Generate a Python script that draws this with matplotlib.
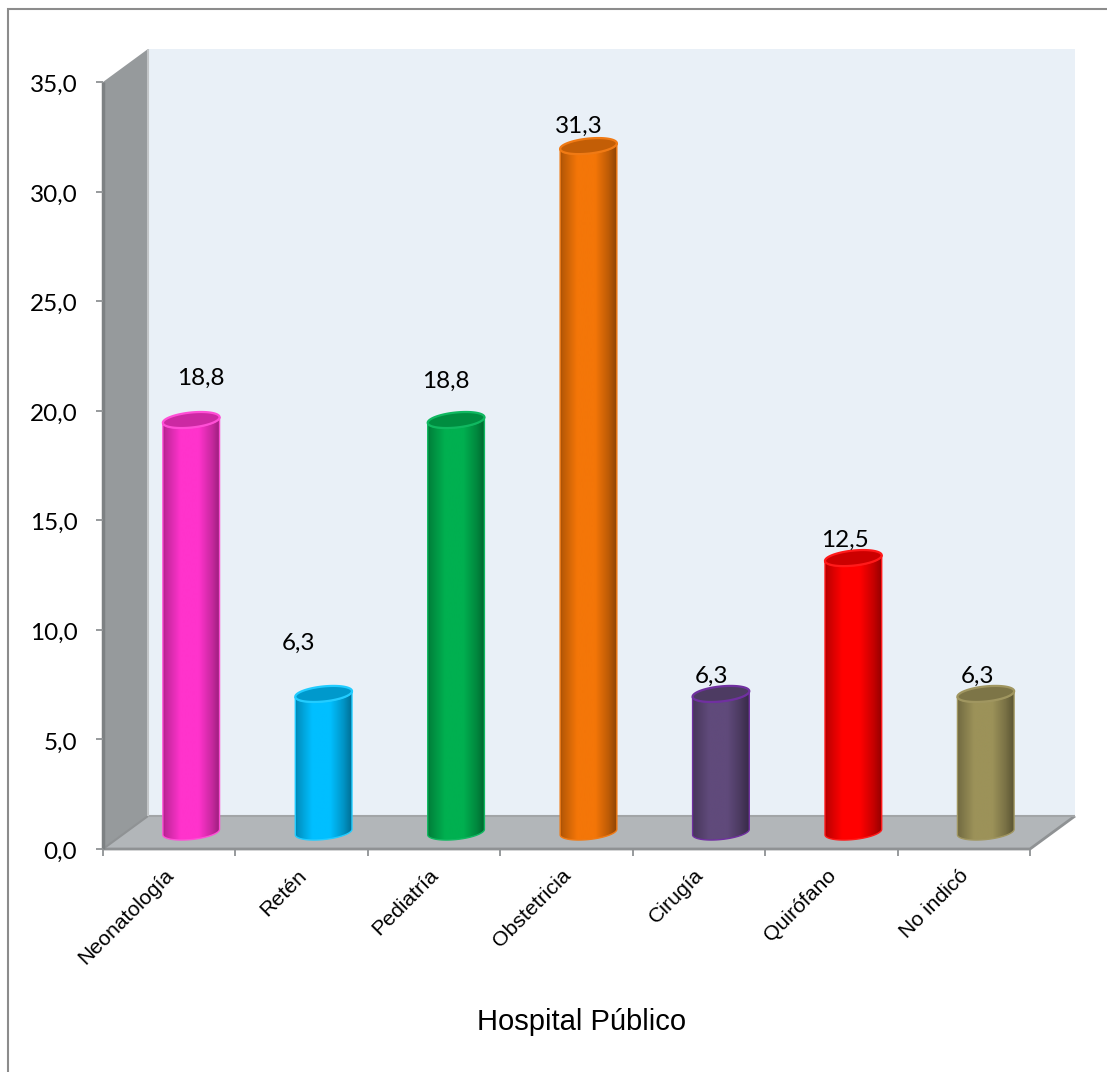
import numpy as np
import matplotlib
matplotlib.use("Agg")
import matplotlib.pyplot as plt
from matplotlib.patches import Polygon, Rectangle
from matplotlib.ticker import FixedLocator, FuncFormatter, NullFormatter
from matplotlib.transforms import ScaledTranslation

categories = ["Neonatología", "Retén", "Pediatría", "Obstetricia", "Cirugía", "Quirófano", "No indicó"]
values = [18.8, 6.3, 18.8, 31.3, 6.3, 12.5, 6.3]
value_labels = ["18,8", "6,3", "18,8", "31,3", "6,3", "12,5", "6,3"]
bar_colors = ["#ff33cc", "#00bfff", "#00b050", "#f47608", "#604a7b", "#ff0000", "#9c9259"]
edge_colors = ["#ff4fd6", "#22ccff", "#10b860", "#f07a14", "#7030a0", "#ff1a1a", "#a09660"]
y_ticks = [0, 5, 10, 15, 20, 25, 30, 35]
x_title = "Hospital Público"

# layout, in pixels of the 1107x1072 figure
W, H = 1107, 1072
AX_L, AX_R, AX_T, AX_B = 103, 1030, 82, 849
DEPTH_X, DEPTH_Y = 45, 33
BAR_W, ELL_H, TILT = 57, 15, 6.0
BAR_DX, BAR_DY = 22, 17
label_offsets = [(10, 42), (-25, 51), (-10, 39), (-9.5, 20), (-9, 18), (-8, 18), (-8.5, 18)]

sans = ["Liberation Sans", "DejaVu Sans"]
num_font = ["Lato", "DejaVu Sans"]

fig = plt.figure(figsize=(W / 100, H / 100), dpi=100, facecolor="white")
ax = fig.add_axes([AX_L / W, 1 - AX_B / H, (AX_R - AX_L) / W, (AX_B - AX_T) / H])
ax.set_xlim(0, len(categories))
ax.set_ylim(0, 35)
ax.patch.set_visible(False)
for s in ax.spines.values():
    s.set_visible(False)

px = len(categories) / (AX_R - AX_L)
py = 35 / (AX_B - AX_T)
ddx, ddy = DEPTH_X * px, DEPTH_Y * py
n = len(categories)

# outer frame of the chart area
fig.add_artist(Rectangle((8 / W, -0.05), 1.2, 1.05 - 9 / H, transform=fig.transFigure,
                         fill=False, ec="#8c8c8c", lw=1.5))

# walls and floor
wall_kw = dict(clip_on=False, lw=0)
ax.add_patch(Polygon([(ddx, ddy), (n + ddx, ddy), (n + ddx, 35 + ddy), (ddx, 35 + ddy)],
                     fc="#e9f0f7", zorder=1, **wall_kw))
ax.add_patch(Polygon([(0, 0), (ddx, ddy), (ddx, 35 + ddy), (0, 35)],
                     fc="#969a9c", zorder=1.2, **wall_kw))
ax.add_patch(Polygon([(0, 0), (n, 0), (n + ddx, ddy), (ddx, ddy)],
                     fc="#b2b6b9", zorder=1.1, **wall_kw))
line_kw = dict(clip_on=False, solid_capstyle="butt", zorder=1.3)
ax.plot([0, n, n + ddx], [0, 0, ddy], color="#8f9294", lw=2.0, **line_kw)
ax.plot([0, ddx], [0, ddy], color="#8f9294", lw=1.5, **line_kw)
ax.plot([ddx, n + ddx], [ddy, ddy], color="#a2a5a7", lw=1.5, **line_kw)
ax.plot([ddx, ddx], [ddy, 35 + ddy], color="#c2c5c7", lw=1.5, **line_kw)
ax.plot([0, 0], [0, 35], color="#7d8183", lw=2.5, **line_kw)


def ell(cx, cy, t):
    """Points on the tilted cylinder cap, returned in data units."""
    a, b = BAR_W / 2, ELL_H / 2
    th = np.radians(TILT)
    x = a * np.cos(t) * np.cos(th) - b * np.sin(t) * np.sin(th)
    y = a * np.cos(t) * np.sin(th) + b * np.sin(t) * np.cos(th)
    return np.column_stack([cx + x * px, cy + y * py])


shade_x = [0.0, 0.04, 0.30, 0.62, 0.85, 1.0]
shade_y = [0.66, 0.76, 1.0, 1.0, 0.78, 0.58]
grad = np.interp(np.linspace(0, 1, 200), shade_x, shade_y)

for i, (v, c, ec, lab, off) in enumerate(zip(values, bar_colors, edge_colors, value_labels, label_offsets)):
    cx = i + 0.5 + BAR_DX * px
    y0 = BAR_DY * py
    y1 = y0 + v
    t_low = np.linspace(np.pi, 2 * np.pi, 60)
    t_full = np.linspace(0, 2 * np.pi, 120)
    body = np.vstack([ell(cx, y0, t_low), ell(cx, y1, t_low[::-1])])
    rgb = np.array(matplotlib.colors.to_rgb(c))
    img = grad[None, :, None] * rgb[None, None, :]
    halfw = BAR_W / 2 * px
    im = ax.imshow(img, extent=[cx - halfw, cx + halfw, y0 - 1, y1 + 1], aspect="auto",
                   interpolation="bilinear", zorder=3, origin="lower")
    clip = Polygon(body, transform=ax.transData, fc="none", lw=0)
    im.set_clip_box(fig.bbox)
    im.set_clip_path(clip)
    ax.add_patch(Polygon(body, fc="none", ec=ec, lw=1.0, clip_on=False, zorder=3.1))
    ax.add_patch(Polygon(ell(cx, y1, t_full), fc=rgb * 0.8, ec=ec, lw=1.6, clip_on=False, zorder=3.2))
    ax.annotate(lab, (cx, y1), xytext=(off[0] * 0.72, off[1] * 0.72), textcoords="offset points",
                ha="center", va="center", fontsize=17.5, family=num_font, color="black",
                annotation_clip=False, zorder=5)

ax.set_xlim(0, n)
ax.set_ylim(0, 35)

ax.set_yticks(y_ticks)
ax.yaxis.set_major_formatter(FuncFormatter(lambda v, _: f"{v:.1f}".replace(".", ",")))
ax.tick_params(axis="y", length=5, width=1.3, color="#8f9294", pad=13.5, labelsize=17.5)
for t in ax.get_yticklabels():
    t.set_family(num_font)
    t.set_transform(t.get_transform() + ScaledTranslation(0, -1.5 / 100, fig.dpi_scale_trans))

ax.xaxis.set_major_locator(FixedLocator(range(n + 1)))
ax.xaxis.set_major_formatter(NullFormatter())
ax.xaxis.set_minor_locator(FixedLocator(np.arange(n) + 0.5))
ax.set_xticklabels(categories, minor=True, rotation=45, ha="right", va="top",
                   rotation_mode="anchor", fontsize=15.3, family=sans)
ax.tick_params(axis="x", which="major", length=5, width=1.3, color="#8f9294")
ax.tick_params(axis="x", which="minor", length=0, pad=12)
for t in ax.get_xticklabels(minor=True):
    t.set_transform(t.get_transform() + ScaledTranslation(-5 / 100, 0, fig.dpi_scale_trans))

ax.set_xlabel(x_title, fontsize=21, family=sans, va="center", ha="center")
ax.xaxis.set_label_coords((582 - AX_L) / (AX_R - AX_L), -(1022 - AX_B) / (AX_B - AX_T))

fig.savefig("out.png", dpi=100)
